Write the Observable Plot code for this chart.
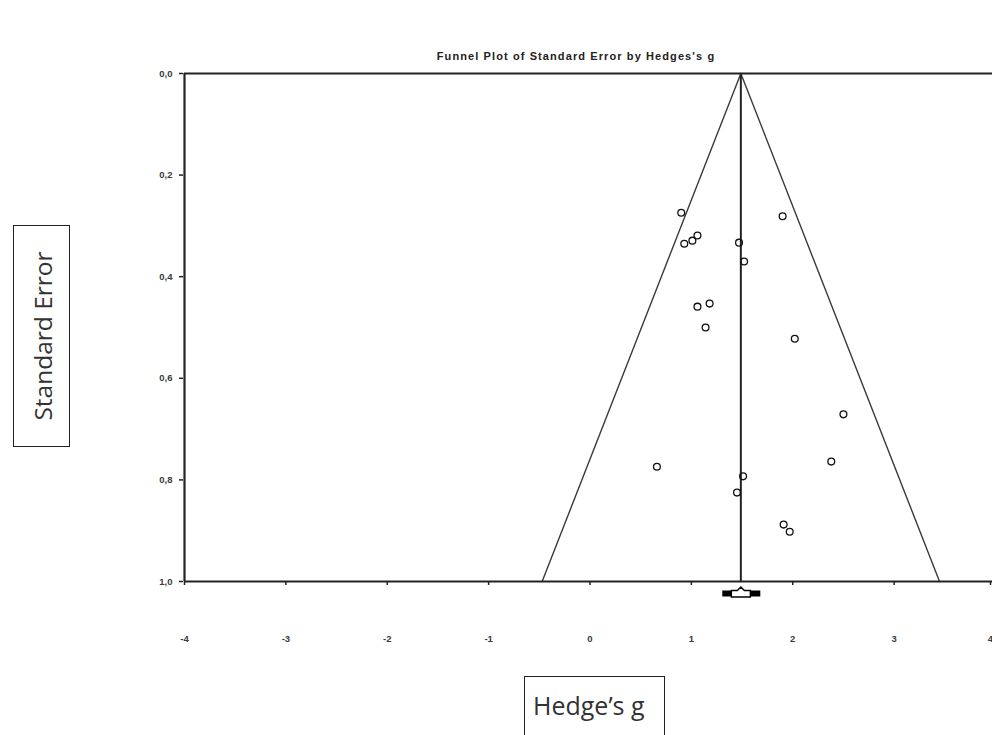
<!DOCTYPE html>
<html>
<head>
<meta charset="utf-8">
<script src="https://cdn.jsdelivr.net/npm/d3@7"></script>
<script src="https://cdn.jsdelivr.net/npm/@observablehq/plot@0.6"></script>
<style>
  html, body { margin: 0; padding: 0; background: #fff; overflow: hidden; }
  #wrap { position: relative; width: 992px; height: 735px; }
  #chart { position: absolute; left: 0; top: 0; }
  .title { position: absolute; left: 326px; width: 500px; top: 50px; text-align: center;
           font: bold 11px "Liberation Sans", Arial, sans-serif; color: #222; letter-spacing: 1.1px; }
  .ybox { position: absolute; left: 13px; top: 225px; width: 55px; height: 220px; border: 1.5px solid #222; }
  .ybox span { position: absolute; left: 50%; top: 50%; transform: translate(-50%, -50%) rotate(-90deg);
               white-space: nowrap; font: 24.5px "Open Sans", sans-serif; color: #333; }
  .xbox { position: absolute; left: 524px; top: 676px; width: 139px; height: 70px; border: 1.5px solid #222; }
  .xbox span { position: absolute; left: 8px; top: 11px; white-space: nowrap;
               font: 25px "Open Sans", sans-serif; color: #333; }
</style>
</head>
<body>
<div id="wrap">
  <div id="chart"></div>
  <div class="title">Funnel Plot of Standard Error by Hedges's g</div>
  <div class="ybox"><span>Standard Error</span></div>
  <div class="xbox"><span>Hedge’s g</span></div>
</div>
<script>
// Study effect sizes (Hedges's g) and standard errors
const studyG  = [0.90, 0.93, 1.01, 1.06, 1.90, 1.47, 1.52, 1.06, 1.18, 1.14, 2.02, 2.50, 2.38, 0.66, 1.51, 1.45, 1.91, 1.97];
const studySE = [0.274, 0.335, 0.329, 0.319, 0.281, 0.333, 0.370, 0.459, 0.453, 0.500, 0.522, 0.671, 0.764, 0.774, 0.793, 0.825, 0.888, 0.902];

// Summary effect (diamond) and funnel
const meanG = 1.488;
const ciLow = 1.31;
const ciHigh = 1.685;
const zCrit = 1.96;
const seMax = 1.0;

// Axis ticks
const xTicks = [-4, -3, -2, -1, 0, 1, 2, 3];
const xTickEdge = [4];
const yTicks = [0, 0.2, 0.4, 0.6, 0.8, 1.0];

const studies = studyG.map((g, i) => ({g, se: studySE[i]}));
const funnel = [
  {g: meanG - zCrit * seMax, se: seMax},
  {g: meanG, se: 0},
  {g: meanG + zCrit * seMax, se: seMax}
];
const ciSpan = ciHigh - ciLow;
const ends = [
  {x1: ciLow, x2: ciLow + ciSpan * 0.27},
  {x1: ciHigh - ciSpan * 0.27, x2: ciHigh}
];

const fmt = d => d3.format(".1f")(d).replace(".", ",");

const wideDiamond = {
  draw(context, size) {
    const w = 9.5;
    context.moveTo(-w, 3);
    context.lineTo(-w, -3);
    context.lineTo(-3.5, -3);
    context.lineTo(0, -6.5);
    context.lineTo(3.5, -3);
    context.lineTo(w, -3);
    context.lineTo(w, 3.5);
    context.lineTo(-w, 3.5);
    context.closePath();
  }
};

const axisStyle = {fontSize: 9.5, fontWeight: "bold", fill: "#3a3a3a", stroke: "#222", strokeWidth: 1.5,
                   fontFamily: "Liberation Sans", label: null};

const chart = Plot.plot({
  width: 992,
  height: 735,
  marginTop: 73,
  marginBottom: 154,
  marginLeft: 183,
  marginRight: 0,
  x: {domain: [-4, 4], range: [184, 995]},
  y: {domain: [0, 1], range: [73, 581]},
  style: {background: "white", overflow: "hidden"},
  marks: [
    Plot.axisY({ticks: yTicks, tickFormat: fmt, tickSize: 4, tickPadding: 7, ...axisStyle}),
    Plot.axisX({ticks: xTicks, tickFormat: d => String(d), tickSize: 4, tickPadding: 50, ...axisStyle}),
    Plot.axisX({ticks: xTickEdge, tickFormat: d => String(d), tickSize: 4, tickPadding: 50, dx: -5, ...axisStyle}),
    Plot.line(funnel, {x: "g", y: "se", stroke: "#3a3a3a", strokeWidth: 1.4}),
    Plot.ruleX([meanG], {y1: 0, y2: 1, stroke: "#222", strokeWidth: 2}),
    Plot.ruleY([0, 1], {x1: -4, x2: 4, stroke: "#222", strokeWidth: 2.2}),
    Plot.ruleX([-4], {y1: 0, y2: 1, stroke: "#222", strokeWidth: 2.2}),
    Plot.dot(studies, {x: "g", y: "se", r: 3.4, stroke: "#111", strokeWidth: 1.3, fill: "none"}),
    Plot.ruleY(ends, {x1: "x1", x2: "x2", y: () => 1, dy: 12, stroke: "#000", strokeWidth: 6}),
    Plot.dot([meanG], {x: d => d, y: () => 1, dy: 12, symbol: wideDiamond, stroke: "#000", strokeWidth: 1.4, fill: "white"})
  ]
});
document.getElementById("chart").appendChild(chart);
</script>
</body>
</html>
